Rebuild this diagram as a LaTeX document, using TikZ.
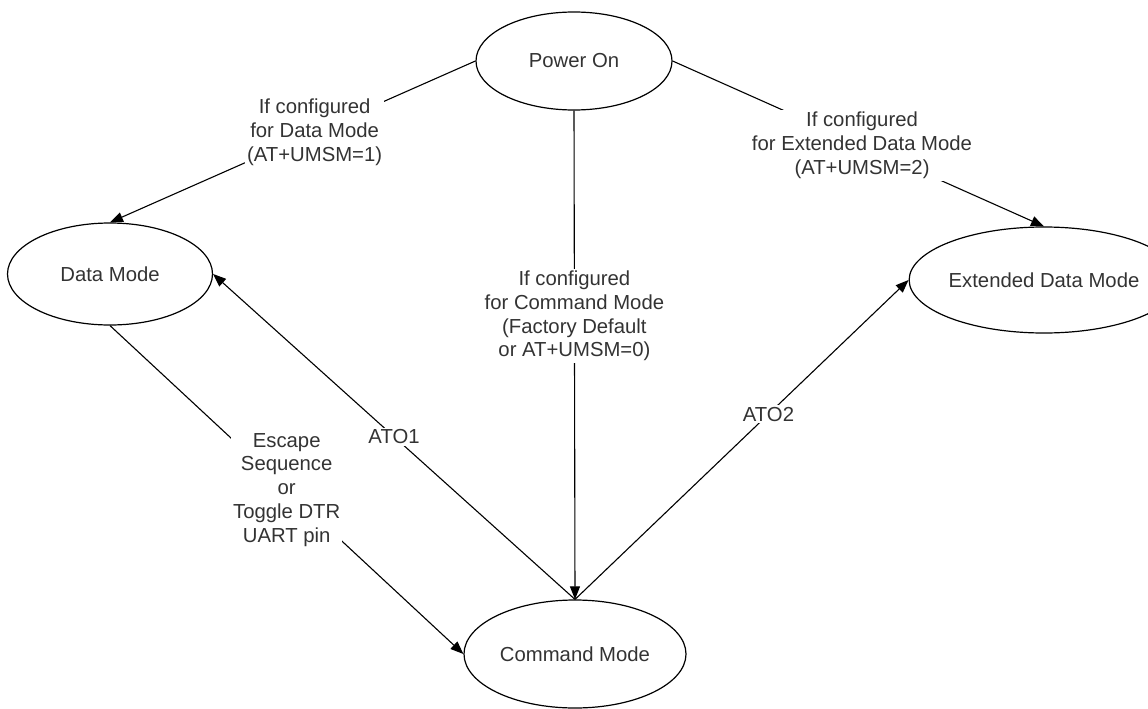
\documentclass[tikz,border=0pt]{standalone}
\usepackage{fontspec}
\setmainfont{Liberation Sans}
\usetikzlibrary{shapes.geometric,arrows.meta}
\definecolor{textgray}{HTML}{333333}
\tikzset{
	state/.style={draw, ellipse, line width=1.2pt, inner sep=0pt, text=textgray},
	trans/.style={-{Triangle[length=13pt,width=10pt]}, line width=1.1pt},
	lbl/.style={fill=white, align=center, inner sep=2pt, text=textgray}
}
\begin{document}
\begin{tikzpicture}[x=1pt,y=-1pt,font=\fontsize{20.3}{23.75}\selectfont]
		\useasboundingbox (0,0) rectangle (1148,709);
		% states
		\node[state, minimum width=196pt, minimum height=98pt] (pon) at (574,61) {Power On};
		\node[state, minimum width=205pt, minimum height=102pt] (data) at (110,274) {Data Mode};
		\node[state, minimum width=212pt, minimum height=106pt] (ext) at (1044,280) {Extended Data Mode};
		\node[state, minimum width=222pt, minimum height=108pt] (cmd) at (575,654) {Command Mode};
		% transitions
		\draw[trans] (pon.west) -- node[lbl, pos=0.44] {If configured\\for Data Mode\\(AT+UMSM=1)} (data.north);
		\draw[trans] (pon.east) -- node[lbl, pos=0.51] {If configured\\for Extended Data Mode\\(AT+UMSM=2)} (ext.north);
		\draw[trans] (pon.south) -- node[lbl, pos=0.42] {If configured\\for Command Mode\\(Factory Default\\or AT+UMSM=0)} (cmd.north);
		\draw[trans] (data.south) -- node[lbl, pos=0.5] {Escape\\Sequence\\or\\Toggle DTR\\UART pin} (cmd.west);
		\draw[trans] (cmd.north) -- node[lbl, pos=0.5] {ATO1} (data.east);
		\draw[trans] (cmd.north) -- node[lbl, pos=0.58] {ATO2} (ext.west);
	\end{tikzpicture}
\end{document}
